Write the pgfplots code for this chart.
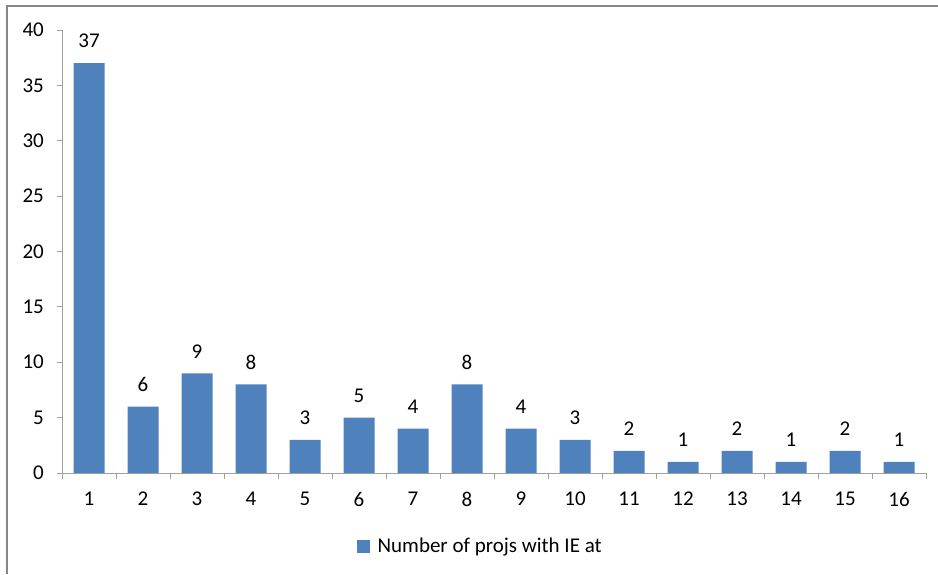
\documentclass[border=0pt]{standalone}
\usepackage{pgfplots}
\pgfplotsset{compat=1.18}
\usepackage{fontspec}
\setmainfont{Carlito}

\definecolor{barblue}{HTML}{4F81BD}
\definecolor{axisgray}{HTML}{A0A0A0}
\definecolor{framegray}{HTML}{878787}

\begin{document}
\fontsize{21}{25}\selectfont
\begin{tikzpicture}[x=1pt,y=1pt]
\useasboundingbox (0,0) rectangle (938,-574);
% chart area frame
\draw[framegray, line width=2pt] (7,-574) -- (7,-6) -- (938,-6);
\begin{axis}[
  at={(62pt,-473pt)}, anchor=south west,
  scale only axis, width=864pt, height=443pt,
  xmin=0.5, xmax=16.5, ymin=0, ymax=40,
  axis x line*=bottom, axis y line*=left,
  axis line style={axisgray, line width=1pt},
  xtick={1,...,16},
  minor xtick={0.5,1.5,...,16.5},
  ytick={0,5,...,40},
  tick align=outside,
  major tick length=5pt, minor tick length=6pt,
  every major x tick/.append style={draw=none},
  every minor x tick/.append style={axisgray, line width=1pt},
  every major y tick/.append style={axisgray, line width=1pt},
  /pgf/number format/assume math mode=true,
  xticklabel style={yshift=-7pt},
  yticklabel style={xshift=-6pt},
  ybar, bar width=31pt,
  nodes near coords,
  every node near coord/.append style={yshift=8pt, text=black},
  legend style={at={(0.484,-0.167)}, anchor=center, draw=none, fill=none},
  % square key followed by a small gap before the entry text
  legend image code/.code={%
    \fill[barblue] (0pt,-6.5pt) rectangle (13pt,6.5pt);
    \path (19pt,0pt);},
]
\addplot[fill=barblue, draw=none] coordinates {
  (1,37) (2,6) (3,9) (4,8) (5,3) (6,5) (7,4) (8,8)
  (9,4) (10,3) (11,2) (12,1) (13,2) (14,1) (15,2) (16,1)
};
\legend{Number of projs with IE at}
\end{axis}
\end{tikzpicture}
\end{document}
